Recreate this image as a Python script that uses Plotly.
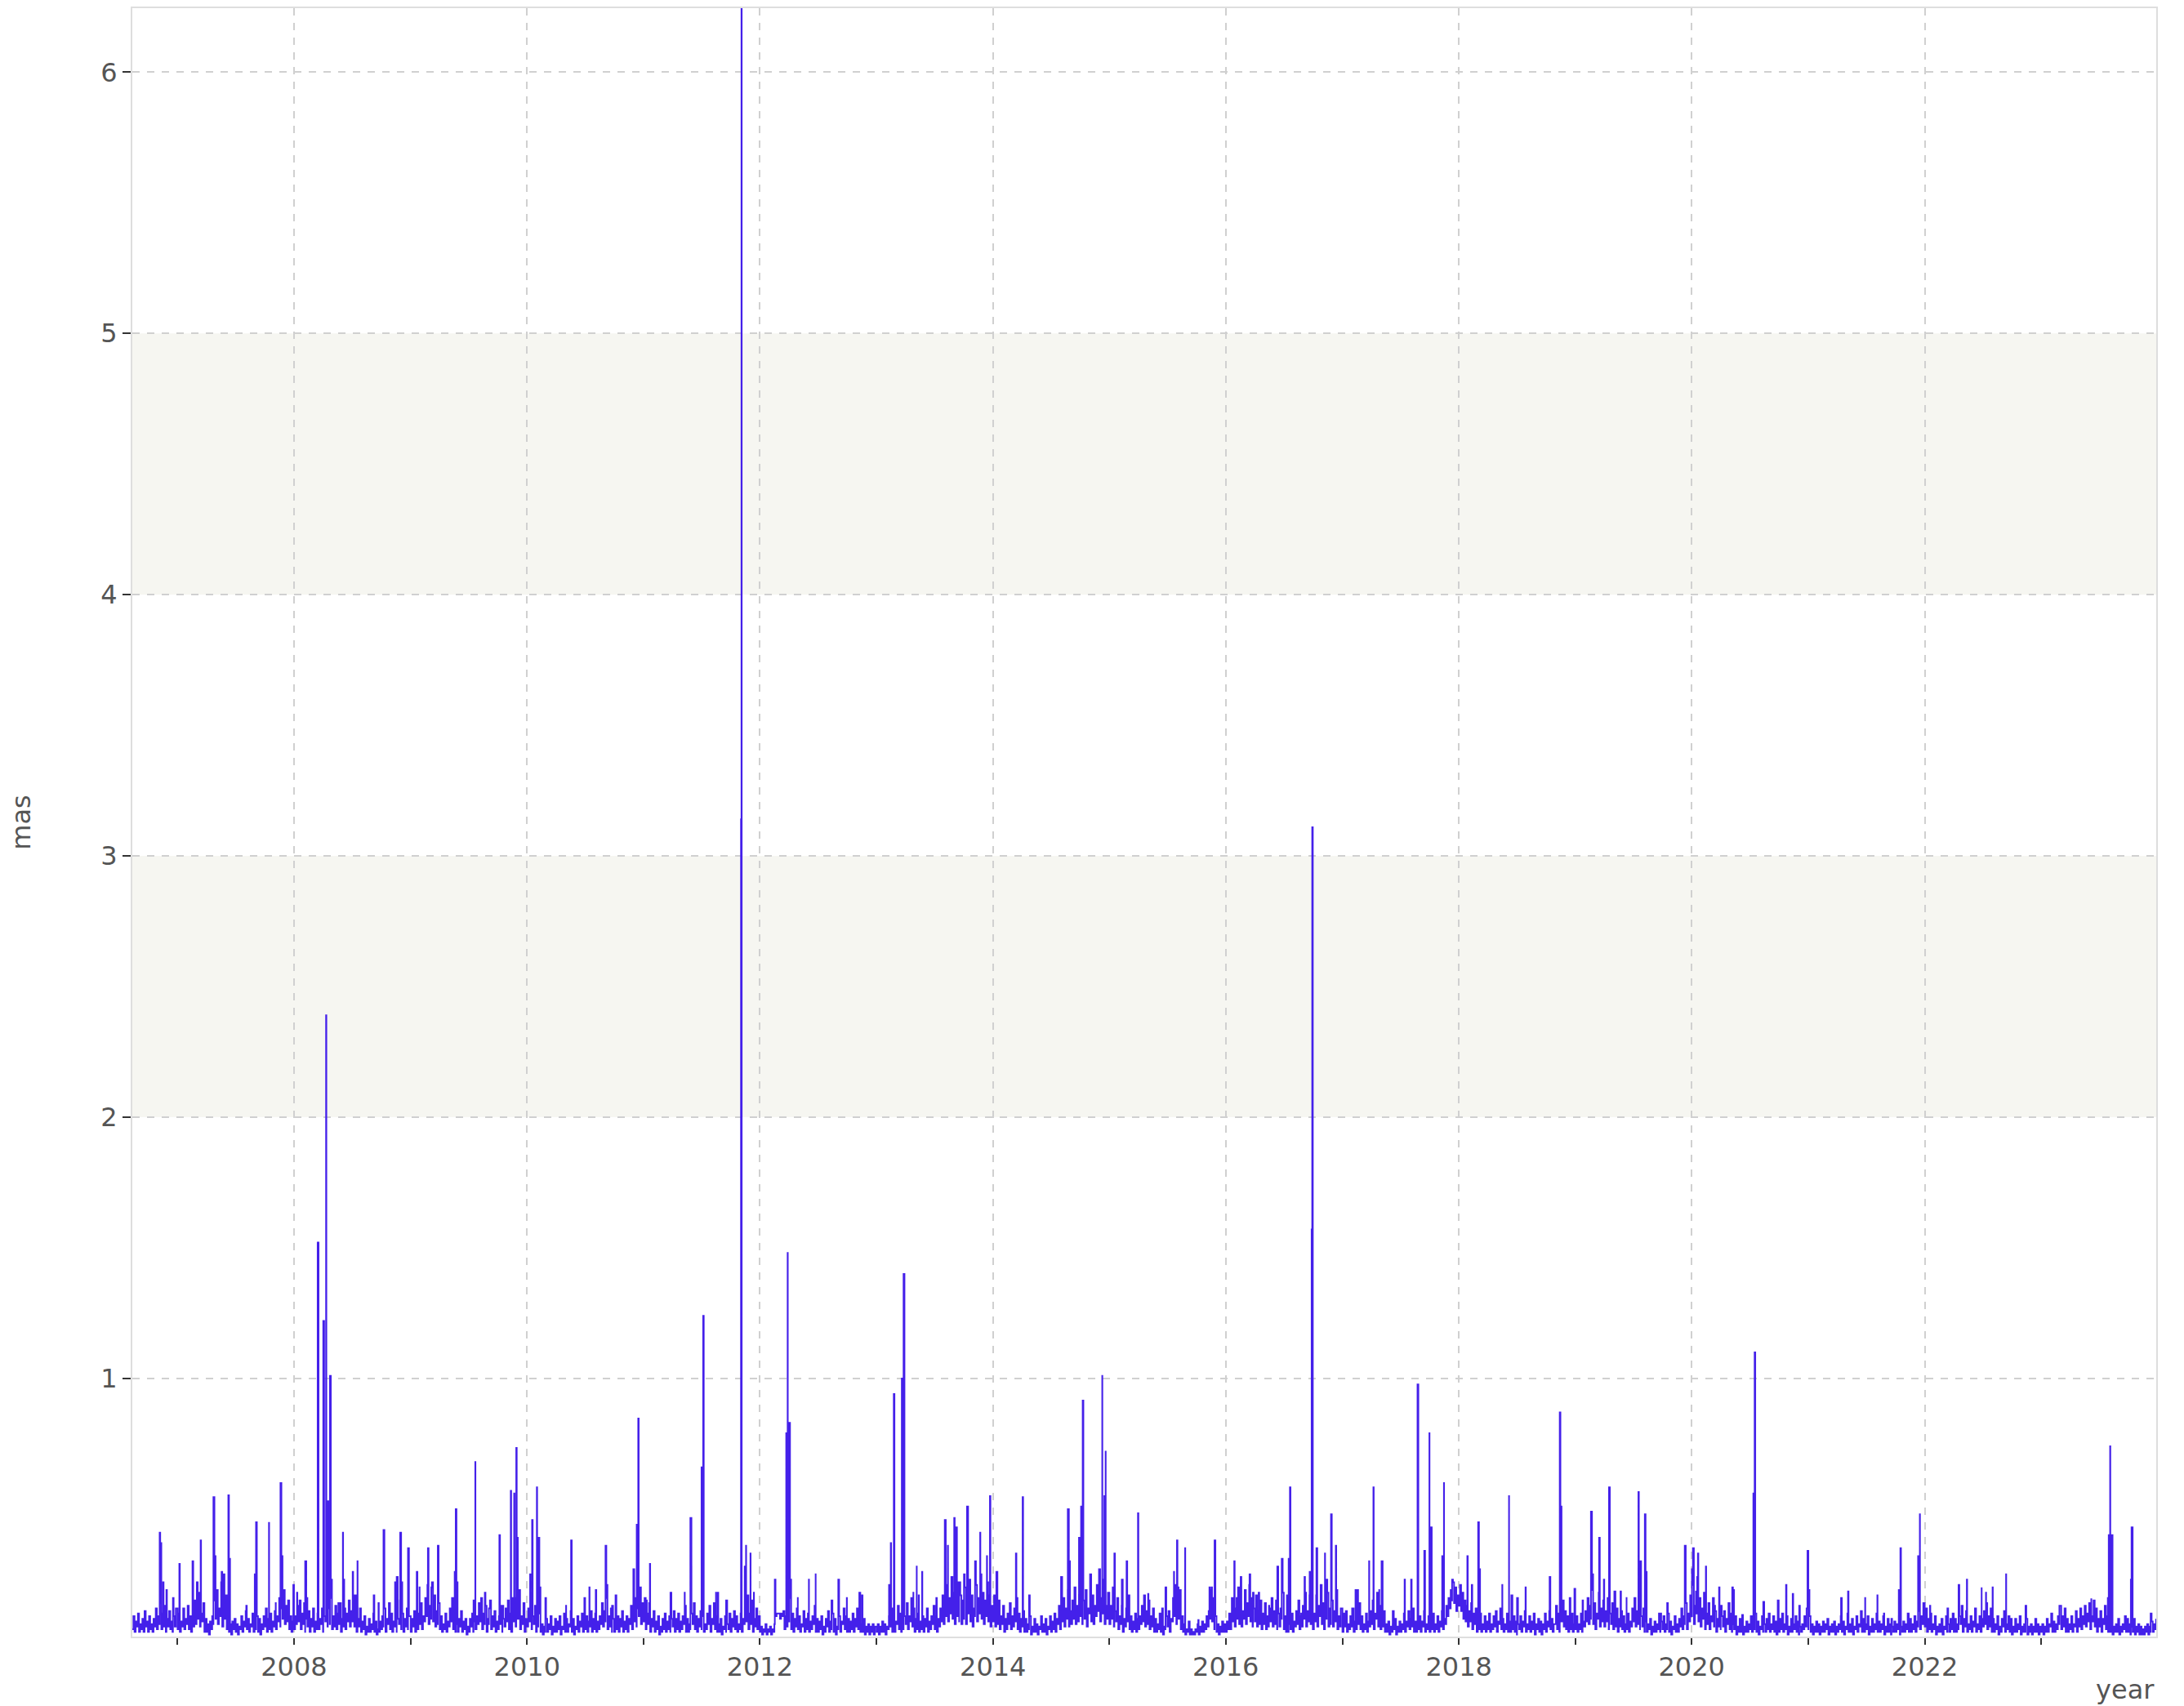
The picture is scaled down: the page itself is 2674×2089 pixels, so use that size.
import datetime as dt
import plotly.graph_objects as go

# ---------------- data ----------------
# baseline: samples every 3.5 days, each year's list starting at the given date
STEP_HOURS = 84
base_starts = {2006: "2006-08-12"}

base_2006 = [0.04,0.09,0.03,0.07,0.05,0.10,0.03,0.06,0.04,0.08,0.03,0.11,0.05,0.07,0.03,0.09,0.04,0.06,0.03,0.08,
             0.05,0.12,0.04,0.09,0.06,0.14,0.04,0.10,0.05,0.13,0.03,0.08,0.05,0.11,0.04,0.07,0.03,0.09,0.05,0.12]
base_2007 = [0.04,0.10,0.03,0.07,0.05,0.12,0.04,0.08,0.06,0.13,0.04,0.09,0.03,0.07,0.05,0.15,0.06,0.11,0.08,0.18,0.05,0.10,0.07,0.14,0.03,0.08,
             0.03,0.06,0.02,0.07,0.04,0.09,0.06,0.15,0.08,0.19,0.06,0.12,0.09,0.22,0.05,0.11,0.08,0.17,0.04,0.09,0.03,0.06,0.02,0.07,0.04,0.08,
             0.03,0.06,0.02,0.05,0.04,0.09,0.03,0.07,0.05,0.11,0.04,0.08,0.03,0.06,0.05,0.10,0.03,0.07,0.04,0.09,0.03,0.08,0.02,0.06,0.04,0.09,
             0.05,0.12,0.03,0.08,0.04,0.10,0.03,0.07,0.05,0.11,0.04,0.09,0.07,0.16,0.05,0.12,0.08,0.19,0.06,0.13,0.07,0.15,0.04,0.09,0.03,0.07]
base_2008 = [0.04,0.09,0.06,0.13,0.07,0.15,0.04,0.10,0.06,0.14,0.03,0.08,0.05,0.11,0.03,0.08,0.05,0.12,0.03,0.07,0.04,0.10,0.04,0.08,0.06,0.12,
             0.03,0.09,0.07,0.18,0.05,0.12,0.06,0.16,0.04,0.09,0.05,0.13,0.04,0.10,0.06,0.14,0.03,0.08,0.05,0.12,0.04,0.10,0.07,0.15,0.05,0.11,
             0.07,0.17,0.05,0.11,0.03,0.08,0.05,0.12,0.03,0.07,0.04,0.09,0.02,0.05,0.03,0.08,0.03,0.06,0.04,0.10,0.03,0.07,0.02,0.04,0.03,0.07,
             0.04,0.09,0.05,0.12,0.03,0.08,0.06,0.14,0.04,0.10,0.03,0.07,0.05,0.11,0.03,0.08,0.06,0.15,0.04,0.10,0.03,0.08,0.05,0.12,0.04,0.09]
base_2009 = [0.03,0.08,0.05,0.11,0.03,0.07,0.04,0.10,0.06,0.14,0.04,0.09,0.07,0.16,0.09,0.21,0.06,0.13,0.08,0.22,0.07,0.17,0.05,0.11,0.06,0.14,
             0.04,0.09,0.03,0.06,0.04,0.10,0.03,0.07,0.05,0.12,0.07,0.16,0.04,0.09,0.03,0.06,0.03,0.08,0.05,0.11,0.03,0.07,0.04,0.08,0.02,0.05,
             0.03,0.08,0.05,0.10,0.03,0.07,0.04,0.09,0.06,0.14,0.07,0.16,0.04,0.10,0.06,0.13,0.03,0.08,0.06,0.15,0.04,0.09,0.05,0.11,0.03,0.07,
             0.04,0.09,0.06,0.13,0.03,0.08,0.05,0.12,0.07,0.15,0.04,0.10,0.03,0.08,0.07,0.16,0.05,0.12,0.08,0.19,0.04,0.09,0.06,0.14,0.03,0.08]
base_2010 = [0.05,0.12,0.07,0.16,0.04,0.09,0.06,0.13,0.03,0.08,0.05,0.10,0.03,0.06,0.02,0.05,0.03,0.08,0.03,0.06,0.04,0.09,0.02,0.05,0.03,0.08,
             0.03,0.07,0.04,0.09,0.02,0.05,0.04,0.10,0.03,0.08,0.03,0.06,0.05,0.11,0.03,0.08,0.02,0.05,0.04,0.09,0.03,0.07,0.05,0.10,0.03,0.08,
             0.04,0.09,0.03,0.07,0.05,0.11,0.03,0.08,0.04,0.10,0.03,0.07,0.04,0.09,0.06,0.14,0.05,0.11,0.07,0.16,0.04,0.09,0.05,0.12,0.03,0.08,
             0.03,0.07,0.04,0.09,0.03,0.08,0.05,0.11,0.03,0.07,0.04,0.09,0.03,0.08,0.06,0.13,0.04,0.10,0.07,0.16,0.05,0.12,0.09,0.20,0.06,0.14]
base_2011 = [0.07,0.16,0.04,0.10,0.06,0.14,0.03,0.08,0.05,0.11,0.03,0.07,0.04,0.09,0.02,0.05,0.03,0.08,0.04,0.10,0.03,0.07,0.04,0.09,0.03,0.08,
             0.05,0.11,0.03,0.08,0.04,0.10,0.03,0.07,0.04,0.09,0.06,0.13,0.03,0.08,0.03,0.06,0.04,0.10,0.06,0.14,0.04,0.09,0.03,0.08,0.05,0.11,
             0.04,0.09,0.03,0.06,0.04,0.10,0.06,0.13,0.03,0.08,0.06,0.14,0.04,0.09,0.03,0.06,0.03,0.08,0.02,0.05,0.04,0.09,0.03,0.06,0.04,0.10,
             0.03,0.08,0.05,0.11,0.04,0.09,0.03,0.06,0.04,0.10,0.03,0.08,0.06,0.13,0.07,0.17,0.04,0.10,0.06,0.15,0.03,0.08,0.05,0.12,0.04,0.09]
base_2012 = [0.03,0.05,0.02,0.04,0.03,0.06,0.02,0.04,0.03,0.05,0.02,0.04,0.03,0.06,0.09,0.10,0.10,0.10,0.08,0.10,0.09,0.11,0.04,0.09,0.05,0.11,
             0.07,0.16,0.04,0.10,0.03,0.08,0.05,0.12,0.04,0.09,0.03,0.06,0.05,0.11,0.03,0.08,0.04,0.10,0.03,0.07,0.04,0.09,0.06,0.13,0.03,0.08,
             0.03,0.07,0.04,0.09,0.02,0.05,0.03,0.08,0.05,0.11,0.03,0.07,0.04,0.10,0.03,0.08,0.02,0.05,0.04,0.09,0.03,0.07,0.06,0.12,0.04,0.09,
             0.03,0.08,0.03,0.07,0.04,0.10,0.03,0.08,0.05,0.12,0.04,0.09,0.03,0.06,0.03,0.08,0.02,0.05,0.03,0.06,0.02,0.05,0.03,0.06,0.02,0.05]
base_2013 = [0.03,0.06,0.02,0.05,0.03,0.07,0.03,0.06,0.02,0.05,0.04,0.09,0.05,0.12,0.03,0.08,0.03,0.07,0.06,0.13,0.04,0.10,0.03,0.08,0.04,0.09,
             0.06,0.14,0.04,0.09,0.07,0.16,0.05,0.12,0.03,0.08,0.04,0.10,0.03,0.07,0.04,0.09,0.03,0.08,0.05,0.12,0.03,0.07,0.04,0.09,0.06,0.13,
             0.04,0.09,0.03,0.08,0.05,0.12,0.07,0.17,0.06,0.14,0.09,0.21,0.07,0.16,0.10,0.24,0.08,0.18,0.06,0.14,0.09,0.22,0.07,0.17,0.06,0.15,
             0.08,0.20,0.06,0.14,0.10,0.23,0.07,0.17,0.05,0.12,0.09,0.21,0.07,0.16,0.10,0.25,0.08,0.18,0.06,0.15,0.09,0.22,0.07,0.17,0.05,0.13]
base_2014 = [0.07,0.17,0.05,0.12,0.06,0.15,0.04,0.09,0.06,0.13,0.03,0.08,0.04,0.10,0.06,0.14,0.04,0.09,0.05,0.12,0.07,0.16,0.04,0.10,0.03,0.08,
             0.05,0.11,0.03,0.08,0.03,0.06,0.04,0.09,0.02,0.05,0.03,0.08,0.03,0.06,0.02,0.05,0.04,0.09,0.03,0.06,0.03,0.08,0.02,0.05,0.04,0.09,
             0.03,0.07,0.04,0.10,0.03,0.08,0.06,0.13,0.04,0.09,0.07,0.16,0.05,0.12,0.08,0.19,0.05,0.11,0.06,0.15,0.08,0.20,0.06,0.13,0.07,0.17,
             0.09,0.23,0.06,0.15,0.08,0.19,0.05,0.12,0.10,0.25,0.07,0.17,0.06,0.13,0.09,0.21,0.11,0.27,0.07,0.16,0.10,0.23,0.06,0.13,0.08,0.18]
base_2015 = [0.06,0.13,0.08,0.20,0.05,0.11,0.07,0.16,0.04,0.09,0.06,0.13,0.03,0.08,0.05,0.12,0.07,0.17,0.04,0.09,0.03,0.07,0.04,0.10,0.03,0.08,
             0.04,0.09,0.06,0.13,0.07,0.17,0.05,0.11,0.06,0.15,0.04,0.09,0.05,0.12,0.03,0.08,0.03,0.06,0.04,0.10,0.03,0.07,0.02,0.05,0.04,0.09,
             0.05,0.11,0.03,0.08,0.07,0.16,0.09,0.21,0.06,0.14,0.08,0.19,0.04,0.09,0.03,0.06,0.02,0.04,0.03,0.07,0.02,0.04,0.02,0.03,0.02,0.04,
             0.03,0.06,0.02,0.05,0.03,0.07,0.03,0.06,0.04,0.09,0.05,0.11,0.08,0.19,0.07,0.16,0.04,0.09,0.03,0.06,0.02,0.05,0.03,0.07,0.03,0.06]
base_2016 = [0.03,0.07,0.04,0.10,0.04,0.09,0.07,0.16,0.05,0.12,0.08,0.20,0.06,0.15,0.05,0.11,0.08,0.19,0.06,0.14,0.09,0.21,0.07,0.16,0.05,0.12,
             0.07,0.17,0.05,0.11,0.06,0.15,0.04,0.10,0.06,0.14,0.04,0.09,0.05,0.12,0.07,0.16,0.05,0.11,0.06,0.15,0.04,0.10,0.05,0.12,0.08,0.18,
             0.04,0.09,0.03,0.07,0.03,0.06,0.04,0.10,0.03,0.07,0.05,0.11,0.06,0.15,0.04,0.09,0.05,0.13,0.08,0.18,0.05,0.11,0.07,0.17,0.06,0.14,
             0.04,0.10,0.07,0.17,0.05,0.13,0.09,0.21,0.06,0.14,0.04,0.10,0.08,0.18,0.05,0.12,0.06,0.15,0.05,0.11,0.07,0.17,0.04,0.09,0.05,0.12]
base_2017 = [0.03,0.07,0.05,0.11,0.03,0.06,0.04,0.09,0.05,0.12,0.03,0.07,0.04,0.10,0.06,0.14,0.04,0.09,0.03,0.06,0.04,0.10,0.03,0.07,0.05,0.11,
             0.06,0.15,0.04,0.10,0.08,0.18,0.05,0.13,0.04,0.09,0.05,0.11,0.03,0.06,0.03,0.07,0.02,0.05,0.03,0.06,0.04,0.08,0.02,0.05,0.03,0.07,
             0.03,0.06,0.04,0.10,0.03,0.07,0.05,0.11,0.04,0.08,0.05,0.12,0.03,0.07,0.03,0.06,0.04,0.09,0.03,0.07,0.05,0.11,0.03,0.06,0.04,0.09,
             0.03,0.07,0.04,0.10,0.03,0.06,0.04,0.09,0.03,0.07,0.05,0.11,0.04,0.08,0.06,0.13,0.09,0.16,0.12,0.19,0.15,0.22,0.14,0.20,0.11,0.17]
base_2018 = [0.13,0.21,0.11,0.18,0.08,0.15,0.07,0.13,0.05,0.11,0.07,0.14,0.04,0.10,0.06,0.12,0.03,0.08,0.04,0.10,0.03,0.06,0.04,0.09,0.03,0.07,
             0.04,0.10,0.03,0.06,0.04,0.09,0.05,0.11,0.03,0.07,0.06,0.12,0.04,0.08,0.03,0.06,0.04,0.10,0.03,0.07,0.03,0.06,0.04,0.09,0.03,0.07,
             0.02,0.06,0.04,0.09,0.03,0.07,0.05,0.11,0.03,0.06,0.04,0.09,0.03,0.07,0.04,0.10,0.02,0.06,0.04,0.08,0.03,0.07,0.02,0.06,0.04,0.10,
             0.03,0.07,0.05,0.11,0.04,0.08,0.03,0.06,0.06,0.13,0.04,0.10,0.03,0.07,0.07,0.15,0.05,0.11,0.04,0.09,0.03,0.07,0.04,0.10,0.03,0.06]
base_2019 = [0.04,0.09,0.03,0.06,0.04,0.10,0.03,0.07,0.05,0.11,0.07,0.16,0.06,0.13,0.08,0.19,0.06,0.14,0.04,0.10,0.08,0.18,0.05,0.12,0.07,0.15,
             0.05,0.11,0.07,0.16,0.04,0.10,0.06,0.14,0.04,0.09,0.05,0.12,0.03,0.08,0.05,0.11,0.04,0.09,0.03,0.06,0.04,0.10,0.03,0.07,0.05,0.12,
             0.07,0.16,0.05,0.11,0.06,0.14,0.04,0.09,0.05,0.12,0.03,0.07,0.03,0.06,0.04,0.08,0.02,0.05,0.03,0.07,0.03,0.06,0.04,0.10,0.03,0.07,
             0.04,0.09,0.03,0.06,0.04,0.10,0.03,0.07,0.02,0.05,0.04,0.09,0.03,0.06,0.03,0.08,0.05,0.12,0.04,0.09,0.06,0.14,0.04,0.10,0.07,0.17]
base_2020 = [0.09,0.21,0.06,0.13,0.10,0.24,0.07,0.16,0.05,0.12,0.08,0.18,0.04,0.10,0.06,0.14,0.04,0.09,0.07,0.16,0.05,0.11,0.03,0.08,0.05,0.12,
             0.04,0.09,0.05,0.11,0.03,0.08,0.06,0.14,0.04,0.10,0.03,0.06,0.04,0.09,0.02,0.05,0.03,0.08,0.03,0.06,0.02,0.05,0.03,0.07,0.03,0.06,
             0.04,0.09,0.03,0.06,0.04,0.10,0.03,0.07,0.02,0.05,0.04,0.09,0.03,0.06,0.03,0.08,0.04,0.10,0.03,0.06,0.04,0.09,0.03,0.07,0.02,0.05,
             0.03,0.08,0.04,0.10,0.03,0.06,0.04,0.09,0.02,0.05,0.03,0.08,0.03,0.06,0.04,0.09,0.03,0.07,0.02,0.05,0.03,0.06,0.04,0.09,0.05,0.12]
base_2021 = [0.04,0.09,0.03,0.06,0.02,0.05,0.03,0.07,0.03,0.06,0.02,0.05,0.03,0.07,0.03,0.06,0.04,0.08,0.02,0.05,0.03,0.06,0.03,0.07,0.02,0.05,
             0.03,0.06,0.04,0.09,0.03,0.07,0.02,0.05,0.04,0.10,0.03,0.06,0.03,0.08,0.02,0.05,0.04,0.09,0.03,0.06,0.05,0.11,0.03,0.08,0.03,0.06,
             0.04,0.09,0.02,0.05,0.03,0.08,0.03,0.06,0.04,0.10,0.03,0.07,0.03,0.06,0.04,0.09,0.02,0.05,0.03,0.08,0.03,0.06,0.02,0.05,0.03,0.07,
             0.03,0.06,0.04,0.09,0.02,0.05,0.03,0.07,0.03,0.06,0.04,0.10,0.03,0.08,0.03,0.06,0.04,0.09,0.03,0.07,0.05,0.11,0.04,0.09,0.06,0.14]
base_2022 = [0.05,0.12,0.03,0.08,0.04,0.10,0.03,0.06,0.04,0.09,0.02,0.05,0.03,0.06,0.03,0.08,0.02,0.05,0.04,0.09,0.03,0.06,0.03,0.08,0.04,0.10,
             0.03,0.08,0.03,0.06,0.04,0.09,0.06,0.13,0.03,0.08,0.05,0.11,0.03,0.06,0.04,0.09,0.03,0.07,0.05,0.12,0.03,0.06,0.04,0.09,0.03,0.08,
             0.05,0.11,0.06,0.14,0.04,0.09,0.05,0.12,0.03,0.08,0.03,0.06,0.04,0.09,0.02,0.05,0.03,0.08,0.05,0.11,0.03,0.06,0.04,0.09,0.03,0.08,
             0.02,0.05,0.03,0.08,0.03,0.06,0.04,0.09,0.02,0.05,0.03,0.06,0.03,0.08,0.02,0.05,0.03,0.06,0.02,0.05,0.03,0.08,0.03,0.06,0.02,0.05]
base_2023 = [0.03,0.06,0.02,0.05,0.03,0.08,0.03,0.06,0.05,0.10,0.03,0.07,0.03,0.06,0.04,0.09,0.06,0.13,0.04,0.09,0.05,0.12,0.03,0.08,0.03,0.06,
             0.04,0.09,0.03,0.06,0.05,0.11,0.03,0.08,0.05,0.12,0.04,0.09,0.06,0.13,0.05,0.10,0.07,0.14,0.04,0.09,0.07,0.15,0.05,0.12,0.03,0.08,
             0.05,0.11,0.03,0.08,0.06,0.13,0.04,0.09,0.03,0.06,0.03,0.08,0.02,0.05,0.03,0.06,0.03,0.08,0.02,0.05,0.03,0.06,0.04,0.09,0.03,0.08,
             0.03,0.06,0.02,0.05,0.03,0.08,0.02,0.05,0.03,0.06,0.02,0.05,0.02,0.04,0.02,0.05,0.03,0.06,0.02,0.05,0.03,0.07,0.03,0.06,0.04,0.08]

# spikes: (decimal year, value in mas)
spike_years = [
    2006.846, 2006.858, 2006.875, 2006.904, 2006.960, 2007.015, 2007.128, 2007.165, 2007.198,
    2007.308, 2007.322, 2007.378, 2007.395, 2007.436, 2007.447, 2007.590, 2007.663, 2007.674,
    2007.785, 2007.843, 2007.884, 2007.898, 2007.994, 2008.026, 2008.096, 2008.108,
    2008.203, 2008.251, 2008.275, 2008.290, 2008.308, 2008.320, 2008.380, 2008.419, 2008.430,
    2008.503, 2008.526, 2008.544, 2008.683, 2008.724, 2008.767, 2008.866, 2008.880, 2008.910,
    2008.922, 2008.977, 2009.052, 2009.076, 2009.148, 2009.177, 2009.233, 2009.378, 2009.387,
    2009.398, 2009.540, 2009.555, 2009.637, 2009.672, 2009.762, 2009.788, 2009.860, 2009.875,
    2009.889, 2009.907, 2009.915, 2010.026, 2010.043, 2010.084, 2010.096, 2010.108, 2010.157,
    2010.335, 2010.378, 2010.492, 2010.535, 2010.590, 2010.674, 2010.689, 2010.730, 2010.760,
    2010.913, 2010.942, 2010.955, 2010.966, 2011.026, 2011.055, 2011.232, 2011.354, 2011.403,
    2011.412, 2011.499, 2011.513, 2011.623, 2011.638, 2011.710, 2011.838, 2011.842, 2011.870,
    2011.881, 2011.919, 2011.948, 2012.128, 2012.226, 2012.238, 2012.252, 2012.267, 2012.325,
    2012.420, 2012.478, 2012.614, 2012.672, 2012.745, 2012.852, 2012.875, 2013.107, 2013.122,
    2013.148, 2013.217, 2013.232, 2013.316, 2013.345, 2013.362, 2013.391, 2013.513, 2013.586,
    2013.600, 2013.612, 2013.667, 2013.681, 2013.710, 2013.751, 2013.777, 2013.846, 2013.890,
    2013.948, 2013.974, 2014.029, 2014.197, 2014.255, 2014.310, 2014.585, 2014.643, 2014.658,
    2014.739, 2014.757, 2014.771, 2014.910, 2014.939, 2014.957, 2014.968, 2015.043, 2015.107,
    2015.148, 2015.246, 2015.333, 2015.453, 2015.482, 2015.555, 2015.581, 2015.592, 2015.651,
    2015.764, 2015.860, 2015.878, 2015.904, 2016.052, 2016.073, 2016.093, 2016.128, 2016.204,
    2016.233, 2016.282, 2016.370, 2016.442, 2016.480, 2016.524, 2016.539, 2016.550, 2016.646,
    2016.675, 2016.719, 2016.736, 2016.741, 2016.777, 2016.850, 2016.865, 2016.902, 2016.943,
    2016.952, 2017.010, 2017.083, 2017.112, 2017.127, 2017.229, 2017.266, 2017.316, 2017.336,
    2017.432, 2017.534, 2017.590, 2017.645, 2017.703, 2017.747, 2017.758, 2017.857, 2017.872,
    2017.942, 2017.965, 2018.073, 2018.111, 2018.166, 2018.178, 2018.373, 2018.431, 2018.451,
    2018.500, 2018.573, 2018.780, 2018.867, 2018.879, 2018.952, 2018.993, 2019.063, 2019.135,
    2019.147, 2019.205, 2019.246, 2019.290, 2019.336, 2019.389, 2019.441, 2019.543, 2019.557,
    2019.598, 2019.610, 2019.732, 2019.790, 2019.941, 2020.003, 2020.011, 2020.037, 2020.054,
    2020.065, 2020.122, 2020.195, 2020.235, 2020.249, 2020.348, 2020.360, 2020.433, 2020.529,
    2020.540, 2020.614, 2020.738, 2020.809, 2020.866, 2020.922, 2020.993, 2021.001, 2021.281,
    2021.341, 2021.488, 2021.593, 2021.649, 2021.714, 2021.777, 2021.791, 2021.943, 2021.958,
    2022.045, 2022.195, 2022.291, 2022.362, 2022.489, 2022.526, 2022.583, 2022.699, 2022.866,
    2023.157, 2023.431, 2023.573, 2023.581, 2023.593, 2023.607, 2023.771, 2023.777, 2023.941,
]
spike_values = [
    0.41, 0.37, 0.22, 0.19, 0.16, 0.29, 0.30, 0.22, 0.38,
    0.546, 0.32, 0.26, 0.25, 0.553, 0.31, 0.13, 0.25, 0.45,
    0.447, 0.14, 0.60, 0.32, 0.21, 0.18, 0.30, 0.16,
    1.52, 1.22, 2.39, 0.53, 1.01, 0.23, 0.14, 0.41, 0.23,
    0.26, 0.17, 0.30, 0.17, 0.14, 0.42, 0.22, 0.24, 0.41,
    0.22, 0.35, 0.26, 0.20, 0.35, 0.20, 0.36, 0.26, 0.50,
    0.22, 0.15, 0.68, 0.18, 0.12, 0.40, 0.13, 0.57, 0.16,
    0.56, 0.734, 0.39, 0.25, 0.458, 0.583, 0.39, 0.20, 0.16,
    0.13, 0.38, 0.16, 0.20, 0.19, 0.36, 0.21, 0.13, 0.17,
    0.27, 0.44, 0.847, 0.13, 0.15, 0.29, 0.18, 0.18, 0.466,
    0.28, 0.66, 1.24, 0.18, 0.18, 0.15, 3.14, 6.25, 0.28,
    0.36, 0.33, 0.18, 0.23, 0.79, 1.48, 0.83, 0.23, 0.16,
    0.23, 0.25, 0.15, 0.23, 0.16, 0.18, 0.17, 0.21, 0.37,
    0.94, 1.00, 1.40, 0.18, 0.28, 0.17, 0.26, 0.16, 0.458,
    0.20, 0.36, 0.466, 0.43, 0.22, 0.25, 0.51, 0.30, 0.41,
    0.32, 0.55, 0.26, 0.33, 0.546, 0.17, 0.24, 0.50, 0.30,
    0.39, 0.51, 0.915, 0.21, 1.01, 0.55, 0.72, 0.33, 0.23,
    0.30, 0.484, 0.175, 0.12, 0.20, 0.26, 0.38, 0.20, 0.35,
    0.075, 0.20, 0.20, 0.38, 0.16, 0.30, 0.16, 0.24, 0.25,
    0.18, 0.18, 0.13, 0.28, 0.31, 0.17, 0.31, 0.583, 0.10,
    0.24, 0.26, 1.57, 3.11, 0.35, 0.33, 0.23, 0.48, 0.36,
    0.19, 0.10, 0.12, 0.19, 0.19, 0.30, 0.583, 0.19, 0.30,
    0.11, 0.23, 0.23, 0.977, 0.34, 0.79, 0.43, 0.32, 0.60,
    0.23, 0.18, 0.32, 0.21, 0.45, 0.27, 0.21, 0.55, 0.17,
    0.16, 0.20, 0.24, 0.87, 0.51, 0.16, 0.195, 0.15, 0.49,
    0.25, 0.39, 0.23, 0.583, 0.185, 0.185, 0.16, 0.565, 0.30,
    0.48, 0.26, 0.10, 0.14, 0.36, 0.27, 0.35, 0.185, 0.33,
    0.12, 0.28, 0.13, 0.20, 0.13, 0.20, 0.19, 0.095, 0.56,
    1.10, 0.145, 0.15, 0.21, 0.175, 0.13, 0.34, 0.19, 0.16,
    0.185, 0.16, 0.17, 0.10, 0.08, 0.19, 0.35, 0.32, 0.48,
    0.13, 0.12, 0.21, 0.23, 0.20, 0.18, 0.20, 0.25, 0.13,
    0.13, 0.155, 0.16, 0.40, 0.74, 0.40, 0.23, 0.43, 0.10,
]

y_ticks = [1, 2, 3, 4, 5, 6]
bands = [(2, 3), (4, 5)]

# ---------------- build series ----------------
base_lists = {
    2006: base_2006, 2007: base_2007, 2008: base_2008, 2009: base_2009, 2010: base_2010,
    2011: base_2011, 2012: base_2012, 2013: base_2013, 2014: base_2014, 2015: base_2015,
    2016: base_2016, 2017: base_2017, 2018: base_2018, 2019: base_2019, 2020: base_2020,
    2021: base_2021, 2022: base_2022, 2023: base_2023,
}

points = []
for yr, vals in base_lists.items():
    s = dt.datetime.fromisoformat(base_starts.get(yr, f"{yr}-01-01"))
    for i, v in enumerate(vals):
        points.append((s + dt.timedelta(hours=STEP_HOURS * i), v))


def year_to_date(y):
    yr = int(y)
    a = dt.datetime(yr, 1, 1)
    b = dt.datetime(yr + 1, 1, 1)
    return a + (b - a) * (y - yr)


points += [(year_to_date(y), v) for y, v in zip(spike_years, spike_values)]
points.sort(key=lambda p: p[0])
xs = [p[0] for p in points]
ys = [p[1] for p in points]

FONT = "Verdana, DejaVu Sans, sans-serif"
TXT = "#555555"
GRID = "#d0d0d0"
FS = 32

fig = go.Figure()
fig.add_trace(go.Scatter(x=xs, y=ys, mode="lines", line=dict(color="#4420ea", width=2, shape="hv"),
                         showlegend=False, hoverinfo="x+y"))

for lo, hi in bands:
    fig.add_shape(type="rect", xref="paper", yref="y", x0=0, x1=1, y0=lo, y1=hi,
                  fillcolor="#f6f6f1", line=dict(width=0), layer="below")

fig.update_layout(
    width=2674, height=2089,
    margin=dict(l=162, r=34, t=8, b=85),
    paper_bgcolor="white", plot_bgcolor="white",
    font=dict(family=FONT, size=FS, color=TXT),
    showlegend=False,
)

fig.update_xaxes(
    type="date",
    range=["2006-08-12", "2023-12-28"],
    tick0="2008-01-01", dtick="M24", tickformat="%Y",
    ticks="outside", ticklen=8, tickwidth=2, tickcolor="#333333",
    tickfont=dict(family=FONT, size=FS, color=TXT),
    showgrid=True, gridcolor=GRID, gridwidth=1.5, griddash="dash",
    minor=dict(tick0="2007-01-01", dtick="M24", ticks="outside", ticklen=8, tickwidth=2,
               tickcolor="#333333", showgrid=False),
    showline=True, mirror=True, linecolor="#dedede", linewidth=2,
    zeroline=False,
)
fig.update_yaxes(
    range=[0.012, 6.245],
    tickvals=y_ticks,
    ticks="outside", ticklen=10, tickwidth=2, tickcolor="#333333",
    tickfont=dict(family=FONT, size=FS, color=TXT),
    showgrid=True, gridcolor=GRID, gridwidth=1.5, griddash="dash",
    showline=True, mirror=True, linecolor="#dedede", linewidth=2,
    zeroline=False,
)

fig.add_annotation(text="mas", xref="paper", yref="paper", x=-0.055, y=0.5,
                   xanchor="center", yanchor="middle", textangle=-90, showarrow=False,
                   font=dict(family=FONT, size=FS, color=TXT))
fig.add_annotation(text="year", xref="paper", yref="paper", x=1.0, y=-0.0326,
                   xanchor="right", yanchor="middle", showarrow=False,
                   font=dict(family=FONT, size=FS, color=TXT))

fig.write_html("out.html",
               config={"displayModeBar": False},
               post_script="document.body.style.margin='0';document.body.style.overflow='hidden';")
